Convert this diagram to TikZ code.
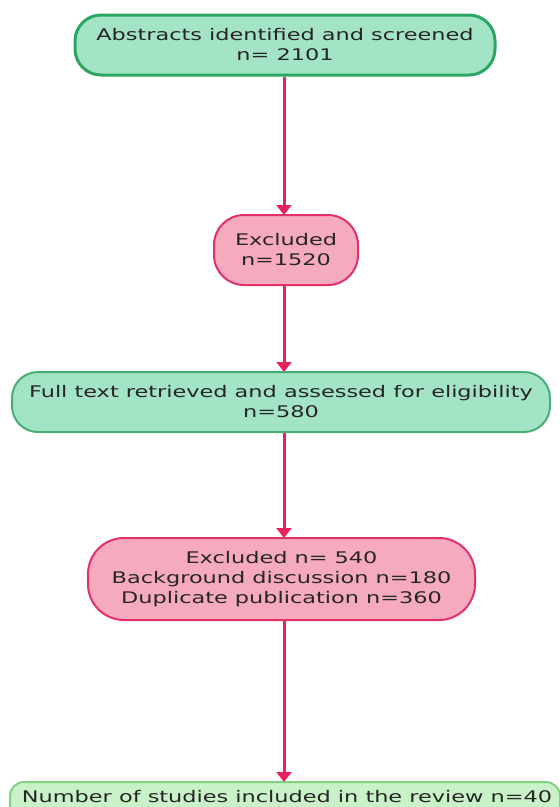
\documentclass[tikz,border=0pt]{standalone}
\usepackage{fontspec}
\setmainfont{DejaVu Sans}
\newfontfamily\boxfont[FakeStretch=1.4]{DejaVu Sans}
\usetikzlibrary{arrows.meta}
\definecolor{gfill}{HTML}{A3E4C6}
\definecolor{gdraw}{HTML}{2AA862}
\definecolor{gdrawb}{HTML}{45AE74}
\definecolor{pfill}{HTML}{F5AABE}
\definecolor{pdraw}{HTML}{E2306A}
\definecolor{lfill}{HTML}{C9F2C9}
\definecolor{ldraw}{HTML}{82D282}
\definecolor{arrc}{HTML}{E8205C}
\tikzset{
  txt/.style={font=\boxfont\fontsize{16}{20}\selectfont, text=black!85},
  box/.style={rounded corners=#1, align=center, inner sep=0pt, txt},
  greenbox/.style={box=26pt, fill=gfill, draw=gdraw, line width=3pt},
  greenboxb/.style={box=26pt, fill=gfill, draw=gdrawb, line width=2pt},
  pinkbox/.style={box=#1, fill=pfill, draw=pdraw, line width=2pt},
  lightbox/.style={box=14pt, fill=lfill, draw=ldraw, line width=2pt},
  arr/.style={draw=arrc, line width=3pt, -{Triangle[width=15pt,length=10pt]}, shorten >=-1pt}
}
\begin{document}
\begin{tikzpicture}[x=1pt,y=-1pt]
\useasboundingbox (0,0) rectangle (560,807);
\clip (0,0) rectangle (560,807);
\node[greenbox, minimum width=420pt, minimum height=60pt] (b1) at (285,45) {Abstracts identified and screened\\n= 2101};
\node[pinkbox=30pt, minimum width=144pt, minimum height=70pt] (b2) at (286,250) {Excluded\\n=1520};
\node[greenboxb, minimum width=538pt, minimum height=60pt] (b3) at (281,402) {Full text retrieved and assessed for eligibility\\n=580};
\node[pinkbox=36pt, minimum width=387pt, minimum height=82pt] (b4) at (281.5,579) {Excluded n= 540\\Background discussion n=180\\Duplicate publication n=360};
\node[lightbox, minimum width=550pt, minimum height=40pt] (b5) at (285,802) {};
\node[txt, inner sep=0pt] (t5) at (287,796.5) {Number of studies included in the review n=40};
\coordinate (ax) at (284,0);
\draw[arr] (b1.south -| ax) -- (b2.north -| ax);
\draw[arr] (b2.south -| ax) -- (b3.north -| ax);
\draw[arr] (b3.south -| ax) -- (b4.north -| ax);
\draw[arr] (b4.south -| ax) -- (b5.north -| ax);
\end{tikzpicture}
\end{document}
